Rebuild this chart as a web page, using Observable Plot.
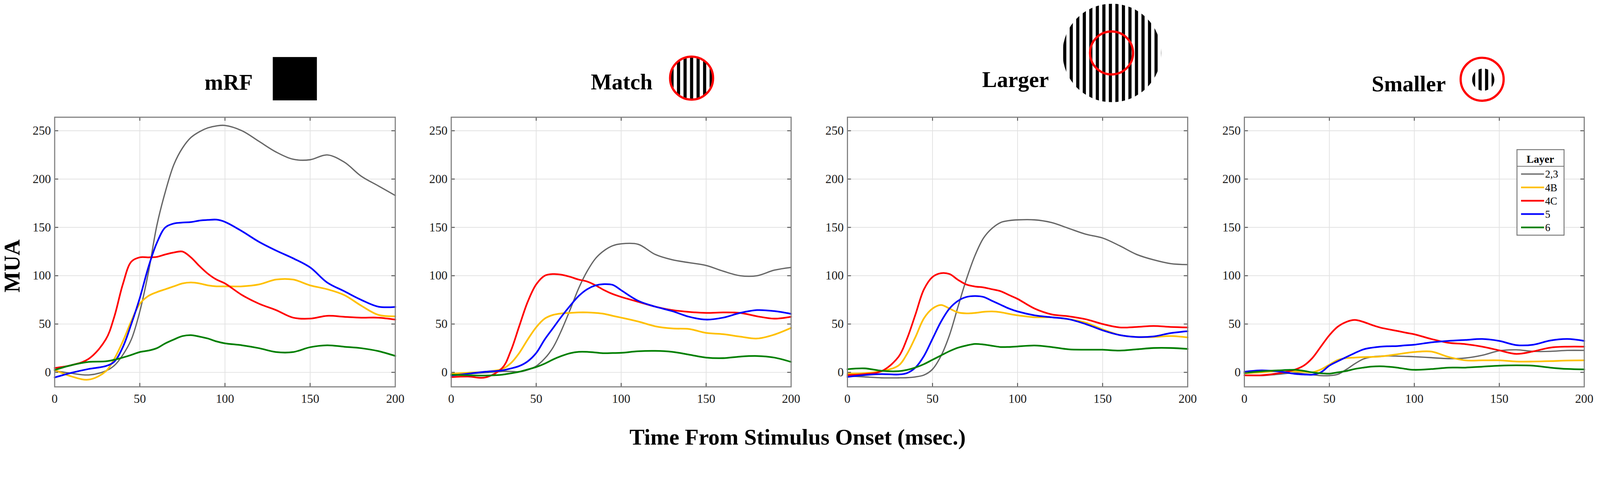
<!DOCTYPE html>
<html><head><meta charset="utf-8">
<script src="https://cdn.jsdelivr.net/npm/d3@7"></script>
<script src="https://cdn.jsdelivr.net/npm/@observablehq/plot@0.6"></script>
<style>
html,body{margin:0;padding:0;background:#fff;overflow:hidden;}
#root{position:relative;width:4317px;height:1222px;overflow:hidden;background:#fff;transform-origin:0 0;}
.panel{position:absolute;}
#overlay{position:absolute;left:0;top:0;}
</style></head><body><div id="root"></div>
<script>
const times = [0,10,20,30,35,40,45,50,55,60,65,70,75,80,85,90,95,100,110,120,130,140,150,160,170,180,190,200];
const layers = ["2,3","4B","4C","5","6"];
const layerColors = ["#666666","#FFC000","#FF0000","#0000FF","#007F00"];
const conditions = ["mRF","Match","Larger","Smaller"];
const xTicks = [0,50,100,150,200];
const yTicks = [0,50,100,150,200,250];
const xLabel = "Time From Stimulus Onset (msec.)";
const yLabel = "MUA";
const legendTitle = "Layer";

// mRF
const mrf_23 = [1.6,-1,-2.7,1.5,7,18,34,63,103,152,187,215,232,243,249,253,255,255.5,250,239,228,220.5,220,225,217.6,203,193,183];
const mrf_4B = [2.5,-4.3,-7.5,1,14,32,53,71,79,83,86,89,92,93,92,90,89,89,89,91,96,96,90,86,80,69,59.5,58];
const mrf_4C = [4.5,7.5,14,34,57.5,91,114.5,119,119,119.5,122,124,125,119,110,102,96,92,80,71,64.4,56.6,55.6,58.5,57.5,56.6,56.6,54.6];
const mrf_5  = [-5.3,-0.4,3.5,6.5,11,26,50,77,108.6,134,150,154,155,155.5,157,157.7,158,155.7,146,135,126,118,108.6,93,84,75,68,67.7];
const mrf_6  = [2.5,7.5,10.8,11.4,13,15.3,18,21,22.5,25,30,34,37.5,38.5,37,35,32,30,28,25,21,21,26,28,26.5,25,22,17];
// Match
const match_23 = [-2.4,-1.4,-0.4,1,1,0.6,2.5,6.5,14.3,26,44,65,87,104.7,118,126,131,133,132.5,122,116.5,113.5,110.6,104.7,100,100,105.7,108.6];
const match_4B = [-1.4,-0.4,0.6,3.5,9.4,20,34,46.7,55.6,59.5,61,61.5,62,62,61.5,60.5,58.5,56.6,52.6,47.7,45.4,44.8,40.8,39.5,37,35,39,46];
const match_4C = [-4.9,-4.3,-5.3,4.5,22,47.7,73,91,100,101.7,101,98.8,96,94,90,85,81,78,73,68,64.4,62.5,61.5,62,61.5,58,55.6,57.5];
const match_5  = [-3.3,-1.4,0.6,2,4,6.5,11.4,20,34,46,58,69,79,86,90,91.3,90.5,85,74,68,63.4,57.5,54.6,56.6,61.5,64.4,63.4,60.5];
const match_6  = [-2.4,-3,-3.3,-2.4,-1,0.6,3,5.5,9,13.4,17,19.8,21.2,21.2,20.5,19.8,20,20.2,21.8,22.2,21.2,18.3,15.3,14.7,16.3,16.9,15.3,10.8];
// Larger
const larger_23 = [-3.7,-4.7,-5.7,-5.7,-5.5,-4.7,-2.8,3.2,17,38.6,68,96.7,121,139,149,155,157,157.8,157.8,155,149,143,139,131,122,116.4,112.5,111.5];
const larger_4B = [-1.2,-0.8,1.2,7,19,36.6,56,66,69.7,66,62,61,61.5,62.6,63,62.2,60.5,59,57,57,55,51.4,44.5,38.6,36.6,36.6,37.6,36.2];
const larger_4C = [-2.8,-1.8,1.2,16,34.7,60,86,98.7,102.6,101.7,95.7,90.8,88.8,87.9,86,84,80,76,66,60,58,55,50,46.5,47,48,47,46.5];
const larger_5  = [-4.7,-2.8,-1.8,-2.2,-0.8,5,17,34.7,52.4,66,74,78,79,78,74,70,66,63,59,57,55,50,43.5,38.6,36.6,37.2,40.6,42.6];
const larger_6  = [3.2,4.1,1.6,1.2,2.5,5,8.5,13,17.5,21.9,25.5,27.8,29.4,28.8,27.5,26.2,26.3,26.8,27.8,26.2,23.8,23.4,23.4,22.5,23.8,25.2,25.2,24.2];
// Smaller
const smaller_23 = [-3,-3.4,-2,-0.6,-1.5,-2.4,-3.4,-3.4,-2,3,8.9,13.8,16,16.8,17,16.8,16.5,16.2,15.2,14.2,14.8,17.7,22.3,23.3,21.7,21.7,22.7,22.7];
const smaller_4B = [-1,0,1.4,1,0.5,0,3,7.9,12.8,14.8,15.3,15.8,16,16.4,17.5,18.7,20,21,21.5,16,12.4,12.4,12.4,11.2,11.2,11.6,12.2,12.4];
const smaller_4C = [-3,-3,-1,3,7,14.8,26.6,38.4,47.3,52.2,54.2,52.2,49,46.3,44.5,42.8,41,39.4,34.5,30.6,29.2,26.6,22.7,19.1,21.7,25.6,26.6,26.6];
const smaller_5  = [0.6,2,1,-1.6,-2.2,-2.4,0,6.9,11.5,15.8,20,23.7,25.5,26.6,27,27.2,28,28.6,31,32.5,33.5,34.5,32.5,28.2,28.6,32.9,34.5,32.5];
const smaller_6  = [-0.6,1,2,2.6,1.5,0,-1,-1.4,0,1.4,3.5,4.9,6,6.3,5.8,4.9,3.5,2.6,3.4,4.9,4.9,5.9,6.9,7.3,6.9,4.9,3.5,3];

const conditionSeries = [
  [mrf_23, mrf_4B, mrf_4C, mrf_5, mrf_6],
  [match_23, match_4B, match_4C, match_5, match_6],
  [larger_23, larger_4B, larger_4C, larger_5, larger_6],
  [smaller_23, smaller_4B, smaller_4C, smaller_5, smaller_6]
];

const root = document.getElementById("root");
function fit() {
  const s = Math.min(window.innerWidth / 4317, window.innerHeight / 1222);
  root.style.transform = `scale(${s})`;
}
fit();
window.addEventListener("resize", fit);

const frameL = [147, 1217, 2286, 3357], frameR = [1066, 2134, 3204, 4274];
const frameTop = 316, frameBottom = 1044;
const mL = 110, mR = 20, mT = 16, mB = 70;
const serif = "'Liberation Serif','Times New Roman',serif";

conditions.forEach((cond, ci) => {
  const rows = [];
  conditionSeries[ci].forEach((arr, li) => arr.forEach((v, j) => rows.push({t: times[j], v, layer: layers[li]})));
  const w = frameR[ci] - frameL[ci], h = frameBottom - frameTop;
  const chart = Plot.plot({
    width: mL + w + mR, height: mT + h + mB,
    marginLeft: mL, marginRight: mR, marginTop: mT, marginBottom: mB,
    style: {fontFamily: serif, fontSize: "33px", color: "#1a1a1a", background: "transparent", maxWidth: "none", overflow: "visible"},
    x: {domain: [0, 200]},
    y: {domain: [-15, 264]},
    color: {domain: layers, range: layerColors},
    marks: [
      Plot.gridX(xTicks.slice(1, -1), {stroke: "#e2e2e2", strokeOpacity: 1, strokeWidth: 2}),
      Plot.gridY(yTicks, {stroke: "#e2e2e2", strokeOpacity: 1, strokeWidth: 2}),
      Plot.line(rows.filter(d => d.layer === layers[0]), {x: "t", y: "v", stroke: "layer", curve: "catmull-rom", strokeWidth: 3.5}),
      Plot.line(rows.filter(d => d.layer !== layers[0]), {x: "t", y: "v", z: "layer", stroke: "layer", curve: "catmull-rom", strokeWidth: 4.5}),
      Plot.tickX(xTicks.slice(1, -1), {x: d => d, insetBottom: h - 10, stroke: "#555", strokeWidth: 2.5}),
      Plot.tickX(xTicks.slice(1, -1), {x: d => d, insetTop: h - 10, stroke: "#555", strokeWidth: 2.5}),
      Plot.tickY(yTicks, {y: d => d, insetRight: w - 10, stroke: "#555", strokeWidth: 2.5}),
      Plot.tickY(yTicks, {y: d => d, insetLeft: w - 10, stroke: "#555", strokeWidth: 2.5}),
      Plot.frame({stroke: "#808080", strokeWidth: 3}),
      Plot.axisX(xTicks, {tickSize: 0, tickPadding: 20, fontSize: 33, label: null}),
      Plot.axisY(yTicks, {tickSize: 0, tickPadding: 10, fontSize: 33, label: null})
    ]
  });
  const div = document.createElement("div");
  div.className = "panel";
  div.style.left = (frameL[ci] - mL) + "px";
  div.style.top = (frameTop - mT) + "px";
  div.style.width = (mL + w + mR) + "px";
  div.appendChild(chart);
  root.appendChild(div);
});

// overlay: titles, stimulus icons, axis labels, legend
const svg = d3.create("svg").attr("id", "overlay").attr("width", 4317).attr("height", 1222)
  .style("font-family", serif);
const defs = svg.append("defs");

function grating(id, cx, cy, r, offset) {
  defs.append("clipPath").attr("id", id).append("circle").attr("cx", cx).attr("cy", cy).attr("r", r);
  const g = svg.append("g").attr("clip-path", `url(#${id})`);
  g.append("circle").attr("cx", cx).attr("cy", cy).attr("r", r).attr("fill", "#fff");
  const period = 17.6, bw = 8.5;
  for (let k = -Math.ceil(r / period) - 1; k <= Math.ceil(r / period) + 1; k++) {
    const x = cx + offset + k * period;
    g.append("rect").attr("x", x - bw / 2).attr("y", cy - r).attr("width", bw).attr("height", 2 * r).attr("fill", "#000");
  }
}

const titleSpecs = [
  {x: 552, y: 242}, {x: 1594, y: 241}, {x: 2650, y: 235}, {x: 3701, y: 247}
];
conditions.forEach((c, i) => {
  svg.append("text").attr("x", titleSpecs[i].x).attr("y", titleSpecs[i].y)
    .attr("font-size", 60).attr("font-weight", "bold").attr("fill", "#000").text(c);
});
// mRF icon
svg.append("rect").attr("x", 736).attr("y", 154).attr("width", 119).attr("height", 117).attr("fill", "#000");
// Match icon
grating("gMatch", 1866, 211, 60, 0);
svg.append("circle").attr("cx", 1866).attr("cy", 211).attr("r", 58).attr("fill", "none").attr("stroke", "#f00").attr("stroke-width", 6);
// Larger icon
grating("gLarger", 3000, 143, 133, -4);
svg.append("circle").attr("cx", 2999).attr("cy", 143).attr("r", 58).attr("fill", "none").attr("stroke", "#f00").attr("stroke-width", 6);
// Smaller icon
grating("gSmaller", 4002, 215, 30, -8.5);
svg.append("circle").attr("cx", 3999).attr("cy", 214).attr("r", 58).attr("fill", "none").attr("stroke", "#f00").attr("stroke-width", 6);

// axis labels
svg.append("text").attr("x", 2152).attr("y", 1200).attr("text-anchor", "middle")
  .attr("font-size", 61).attr("font-weight", "bold").attr("fill", "#000").text(xLabel);
svg.append("text").attr("transform", "translate(53,718) rotate(-90)").attr("text-anchor", "middle")
  .attr("font-size", 60).attr("font-weight", "bold").attr("fill", "#000").text(yLabel);

// legend
const lg = svg.append("g");
lg.append("rect").attr("x", 4093).attr("y", 404).attr("width", 127).attr("height", 231)
  .attr("fill", "#fff").attr("stroke", "#777").attr("stroke-width", 2.5);
lg.append("line").attr("x1", 4093).attr("x2", 4220).attr("y1", 449).attr("y2", 449).attr("stroke", "#777").attr("stroke-width", 2);
lg.append("text").attr("x", 4156).attr("y", 440).attr("text-anchor", "middle").attr("font-size", 29)
  .attr("font-weight", "bold").attr("fill", "#000").text(legendTitle);
layers.forEach((l, i) => {
  const y = 470 + i * 36;
  lg.append("line").attr("x1", 4104).attr("x2", 4166).attr("y1", y).attr("y2", y)
    .attr("stroke", layerColors[i]).attr("stroke-width", i === 0 ? 3.5 : 4.5);
  lg.append("text").attr("x", 4169).attr("y", y + 10).attr("font-size", 28).attr("fill", "#000").text(l);
});

root.appendChild(svg.node());
</script></body></html>
